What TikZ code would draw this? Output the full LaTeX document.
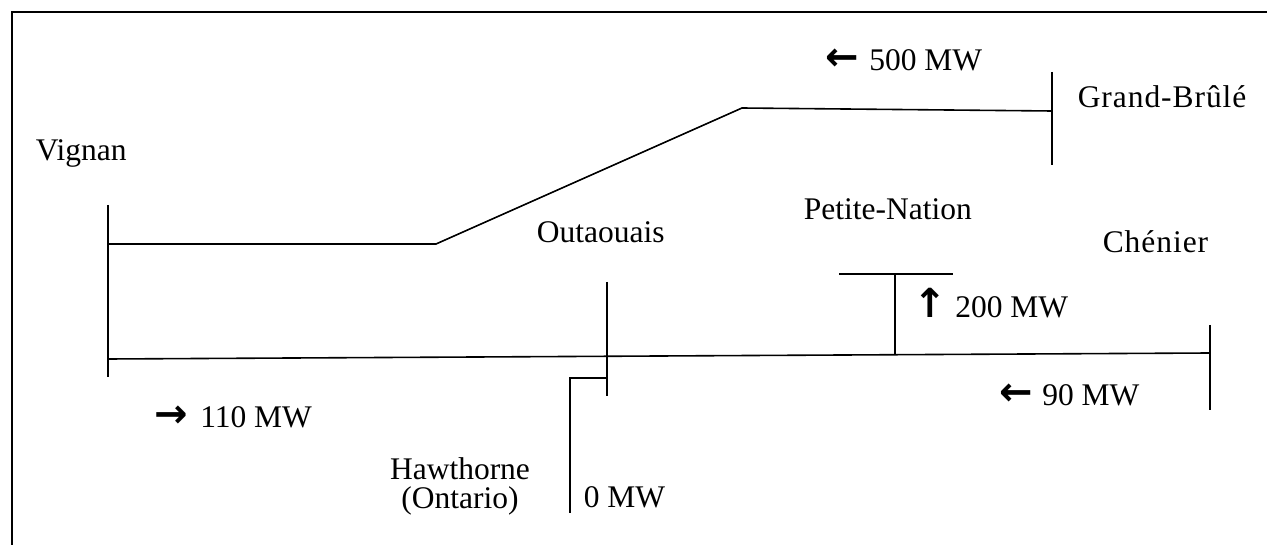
\documentclass[tikz,border=0pt]{standalone}
\usepackage{fontspec}
\setmainfont{Liberation Serif}
\newfontfamily\arrfont{DejaVu Sans}
\newcommand{\arw}[1]{{\arrfont\bfseries\fontsize{40}{30}\selectfont #1}}
\begin{document}
\begin{tikzpicture}[x=1pt,y=-1pt,
  line width=1.6pt,
  lbl/.style={inner sep=0pt, anchor=base west, font=\fontsize{31.5}{30}\selectfont},
  clbl/.style={inner sep=0pt, anchor=base, font=\fontsize{31.5}{30}\selectfont},
  busline/.style={line width=1.8pt},
  frameline/.style={line width=2pt}]
\useasboundingbox (0,0) rectangle (1267,545);
% frame
\coordinate (fbl) at (12,545);
\coordinate (ftl) at (12,12);
\coordinate (ftr) at (1267,12);
\draw[frameline] (fbl) -- (ftl) -- (ftr);

% buses
\coordinate (vigT) at (108,205);
\coordinate (vigB) at (108,377);
\draw[busline] (vigT) -- (vigB);
\coordinate (gbT) at (1052,72);
\coordinate (gbB) at (1052,165);
\draw[busline] (gbT) -- (gbB);
\coordinate (outT) at (607,282);
\coordinate (outB) at (607,396);
\draw[busline] (outT) -- (outB);
\coordinate (chT) at (1210,325);
\coordinate (chB) at (1210,410);
\draw[busline] (chT) -- (chB);
\coordinate (pnL) at (839,274);
\coordinate (pnR) at (953,274);
\draw[busline] (pnL) -- (pnR);

% upper line Vignan - Grand-Brule
\coordinate (u0) at (108,244);
\coordinate (u1) at (436,244);
\coordinate (u2) at (742,108);
\coordinate (u3) at (1052,111);
\draw (u0) -- (u1) -- (u2) -- (u3);

% lower line Vignan - Chenier
\coordinate (l0) at (108,359);
\coordinate (l1) at (1210,353);
\draw (l0) -- (l1);

% Petite-Nation tap
\coordinate (pnM) at (895,274);
\coordinate (pnD) at (895,354.5);
\draw (pnM) -- (pnD);

% Hawthorne tie
\coordinate (hwA) at (607,378);
\coordinate (hwB) at (570,378);
\coordinate (hwC) at (570,513);
\draw (hwA) -- (hwB) -- (hwC);

% labels
\node[lbl] (vignan) at (35,161) {Vignan};
\node[lbl] (grandbrule) at (1077,108) {\addfontfeature{LetterSpace=3}Grand-Brûlé};
\node[lbl] (p500) at (825,71) {\arw{←}\hspace{10pt}500 MW};
\node[lbl] (outaouais) at (536,243) {Outaouais};
\node[lbl] (petitenation) at (803,220) {Petite-Nation};
\node[lbl] (chenier) at (1102,253) {\addfontfeature{LetterSpace=3}Chénier};
\node[lbl] (p200) at (913,318) {\arw{↑}\hspace{8pt}200 MW};
\node[lbl] (p90) at (999,406) {\arw{←}\hspace{9pt}90 MW};
\node[lbl] (p110) at (154,427) {\arw{→}\hspace{12pt}110 MW};
\node[lbl] (p0) at (583,507) {0 MW};
\node[clbl] (hawthorne) at (460,479) {Hawthorne};
\node[clbl] (ontario) at (460,508) {(Ontario)};
\end{tikzpicture}
\end{document}
